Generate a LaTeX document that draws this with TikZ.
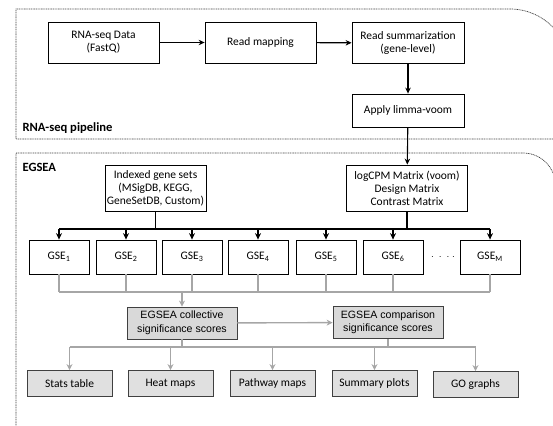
\documentclass[tikz,border=0pt]{standalone}
\usepackage{fontspec}
\setmainfont{Carlito}
\newfontfamily\arialfont{Liberation Sans}
\usetikzlibrary{arrows.meta}

\begin{document}
\begin{tikzpicture}[x=1pt, y=-1pt,
    box/.style={draw, line width=0.8pt, align=center, inner sep=1pt,
        font=\fontsize{11.5}{13}\selectfont},
    scorebox/.style={box, draw=black!75, fill=black!15, minimum width=110pt, minimum height=32pt,
        font=\arialfont\fontsize{10.6}{13.5}\selectfont},
    outbox/.style={box, draw=black!75, fill=black!12, minimum width=85pt, minimum height=26pt},
    gse/.style={box, minimum width=60pt, minimum height=34pt},
    frame/.style={draw=black!75, line width=0.7pt, dash pattern=on 1pt off 0.7pt},
    flow/.style={line width=1.1pt, -{Stealth[length=6pt,width=5.5pt]}},
    heavy/.style={line width=1.6pt},
    heavyflow/.style={heavy, -{Stealth[length=6.5pt,width=6pt]}},
    grey/.style={draw=black!35, line width=1.4pt},
    greyflow/.style={grey, -{Stealth[length=6pt,width=6pt]}},
    title/.style={anchor=west, font=\bfseries\fontsize{12.6}{14}\selectfont}
]
    \useasboundingbox (0,0) rectangle (553,425);

    % dotted frames
    \draw[frame] (575,139) -- (16,139) -- (16,9) -- (510,9)
        .. controls (543.1,9) and (570,35.9) .. (570,69) -- (570,139);
    \draw[frame] (16,430) -- (16,153) -- (523,153)
        .. controls (541,153) and (555.5,167.5) .. (555.5,185.5) -- (555.5,430);
    \node[title] at (19,128) (pipe) {RNA-seq pipeline};
    \node[title] at (19,167) (egsea) {EGSEA};

    % RNA-seq pipeline
    \node[box, minimum width=111pt, minimum height=41pt] at (103.5,42.5) (data) {RNA-seq Data\\(FastQ)};
    \node[box, minimum width=111pt, minimum height=41pt] at (260.5,42.5) (map) {Read mapping};
    \node[box, minimum width=112pt, minimum height=41pt] at (408,43) (summ) {Read summarization\\(gene-level)};
    \node[box, minimum width=112pt, minimum height=33pt] at (408,110.5) (voom) {Apply limma-voom};

    \draw[flow] (data) -- (map);
    \draw[flow] (map) -- (summ);
    \draw[flow] (summ) -- (voom);

    % EGSEA inputs
    \node[box, minimum width=101pt, minimum height=46pt] at (155.5,188) (sets) {Indexed gene sets\\(MSigDB, KEGG,\\GeneSetDB, Custom)};
    \node[box, minimum width=121pt, minimum height=46pt] at (407,188) (cpm) {logCPM Matrix (voom)\\Design Matrix\\Contrast Matrix};
    \draw[flow] (voom) -- (cpm);

    % base methods
    \node[gse] at (59,257)  (gse1) {GSE\textsubscript{1}};
    \node[gse] at (126,257) (gse2) {GSE\textsubscript{2}};
    \node[gse] at (192,257) (gse3) {GSE\textsubscript{3}};
    \node[gse] at (258,257) (gse4) {GSE\textsubscript{4}};
    \node[gse] at (326,257) (gse5) {GSE\textsubscript{5}};
    \node[gse] at (393,257) (gse6) {GSE\textsubscript{6}};
    \node at (443,257) (dots) {$\cdot\;\cdot\;\cdot\;\cdot$};
    \node[gse] at (490,257) (gseM) {GSE\textsubscript{M}};

    \coordinate (bus) at (0,229);
    \draw[heavy] (sets.south) -- (sets.south |- bus);
    \draw[heavy] (cpm.south) -- (cpm.south |- bus);
    \draw[heavy] (gse1.north |- bus) -- (gseM.north |- bus);
    \foreach \g in {1,2,3,4,5,6,M}
        \draw[heavyflow] (gse\g.north |- bus) -- (gse\g.north);

    % scores
    \node[scorebox] at (182,323) (coll) {EGSEA collective\\significance scores};
    \node[scorebox] at (388,322.5) (comp) {EGSEA comparison\\significance scores};

    \coordinate (join) at (0,292);
    \foreach \g in {1,2,3,4,5,6,M}
        \draw[grey] (gse\g.south) -- (gse\g.south |- join);
    \draw[grey] (gse1.south |- join) -- (gseM.south |- join);
    \draw[greyflow] (coll.north |- join) -- (coll.north);
    \draw[greyflow] (coll) -- (comp);

    % outputs
    \node[outbox] at (69.5,383.5)  (stats) {Stats table};
    \node[outbox] at (170.5,383.5) (heat)  {Heat maps};
    \node[outbox] at (272.5,383.5) (path)  {Pathway maps};
    \node[outbox] at (374.5,383.5) (plots) {Summary plots};
    \node[outbox] at (475.5,384.5) (go)    {GO graphs};

    \coordinate (fan) at (0,347);
    \draw[grey] (coll.south) -- (coll.south |- fan);
    \draw[grey] (comp.south) -- (comp.south |- fan);
    \draw[grey] (stats.north |- fan) -- (go.north |- fan);
    \foreach \o in {stats,heat,path,plots,go}
        \draw[greyflow] (\o.north |- fan) -- (\o.north);
\end{tikzpicture}
\end{document}
